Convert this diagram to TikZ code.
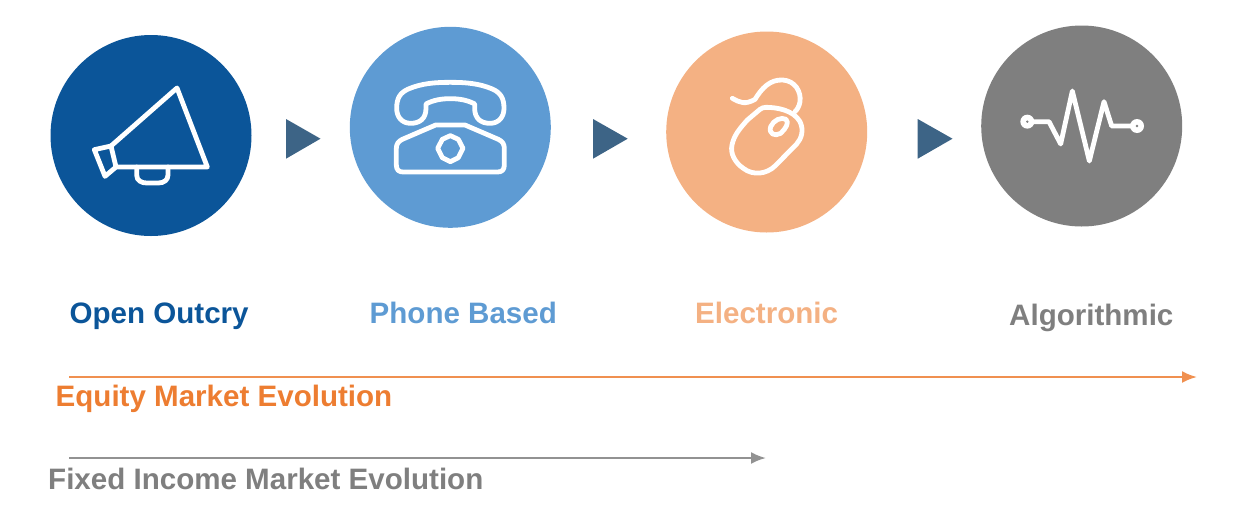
\documentclass[tikz,border=0pt]{standalone}
\usepackage{fontspec}
\setmainfont{Liberation Sans}
\usetikzlibrary{arrows.meta}
\definecolor{cblue}{HTML}{0B5599}
\definecolor{clight}{HTML}{5E9BD3}
\definecolor{cpeach}{HTML}{F4B183}
\definecolor{cgrey}{HTML}{7F7F7F}
\definecolor{ctri}{HTML}{3D6486}
\definecolor{corange}{HTML}{ED7D31}
\tikzset{
  disc/.style={circle,minimum size=201pt,inner sep=0pt,outer sep=0pt,fill=#1},
  icon/.style={draw=white,line width=4.8pt,line join=round,line cap=round},
  zoomed/.style={x=0.33333pt,y=-0.33333pt},
  tri/.style={fill=ctri,draw=none},
  lab/.style={font=\fontsize{29.55}{34}\selectfont\bfseries,inner sep=0pt,anchor=base west},
  flow/.style={line width=2.3pt,-{Latex[length=15pt,width=12pt]}}
}
\begin{document}
\begin{tikzpicture}[x=1pt,y=-1pt]
\useasboundingbox (0,0) rectangle (1238,512);
\node[disc=cblue] (c1) at (151,135.5) {};
\node[disc=clight] (c2) at (450.3,127.3) {};
\node[disc=cpeach] (c3) at (766.7,132) {};
\node[disc=cgrey] (c4) at (1081.7,126) {};
\fill[tri] (286,119) -- (320.5,138.7) -- (286,158.7) -- cycle;
\fill[tri] (593,119) -- (627.7,138.7) -- (593,158.7) -- cycle;
\fill[tri] (917.7,119) -- (952.5,138.7) -- (917.7,158.7) -- cycle;
% megaphone
\begin{scope}[shift={(50,20)},zoomed]
\draw[icon] (183,378) -- (381,204) -- (472,441) -- (198,441) -- (165,469) -- (133,389) -- cycle;
\draw[icon] (183,378) -- (198,441);
\draw[icon] (260,441) -- (260,465) .. controls (260,482) and (275,489) .. (290,489) -- (325,489) .. controls (342,489) and (354,480) .. (354,465) -- (354,441);
\end{scope}
% phone
\begin{scope}[shift={(345,20)},zoomed]
\draw[icon] (316,187) .. controls (270,187) and (230,190) .. (190,207) .. controls (165,218) and (155,235) .. (155,265) .. controls (155,290) and (170,310) .. (197,310) .. controls (225,310) and (243,295) .. (243,265) -- (243,252) .. controls (265,240) and (290,236) .. (316,236) .. controls (342,236) and (367,240) .. (389,252) -- (389,265) .. controls (389,295) and (407,310) .. (435,310) .. controls (462,310) and (477,290) .. (477,265) .. controls (477,235) and (467,218) .. (442,207) .. controls (402,190) and (362,187) .. (316,187) -- cycle;
\draw[icon] (272,315) -- (360,315) -- (460,358) .. controls (472,364) and (478,372) .. (478,385) -- (478,435) .. controls (478,450) and (470,456) .. (458,456) -- (174,456) .. controls (162,456) and (154,450) .. (154,435) -- (154,385) .. controls (154,372) and (160,364) .. (172,358) -- cycle;
\draw[icon] (316,347) -- (340,358) -- (354,385) -- (340,413) -- (316,425) -- (292,413) -- (278,385) -- (292,358) -- cycle;
\end{scope}
% mouse
\begin{scope}[shift={(660,20)},zoomed]
\draw[icon] (217,235) .. controls (240,248) and (255,255) .. (285,238) .. controls (305,205) and (330,178) .. (368,180) .. controls (405,182) and (424,215) .. (420,245) .. controls (418,258) and (412,268) .. (405,275);
\draw[icon] (318,262) .. controls (350,262) and (400,270) .. (420,305) .. controls (432,330) and (425,355) .. (410,372) -- (345,438) .. controls (320,462) and (280,468) .. (250,445) .. controls (225,428) and (210,400) .. (216,375) .. controls (222,345) and (240,325) .. (262,300) -- (300,268) .. controls (305,264) and (312,262) .. (318,262) -- cycle;
\draw[icon] (332,320) .. controls (340,300) and (365,290) .. (378,298) .. controls (388,308) and (378,325) .. (362,340) .. controls (345,350) and (325,342) .. (332,320) -- cycle;
\end{scope}
% pulse
\begin{scope}[shift={(975,20)},zoomed]
\draw[icon] (157,305) -- (222,305) -- (257,372) -- (292,213) -- (343,423) -- (387,245) -- (410,318) -- (486,318);
\fill[white] (157,305) circle[radius=7pt];
\fill[white] (486,318) circle[radius=7pt];
\fill[cgrey] (157,305) circle[radius=1.3pt];
\fill[cgrey] (486,318) circle[radius=1.3pt];
\end{scope}
% labels
\node[lab,text=cblue] (t1) at (69.5,323) {Open Outcry};
\node[lab,text=clight] (t2) at (369.5,323) {Phone Based};
\node[lab,text=cpeach] (t3) at (695,323) {Electronic};
\node[lab,text=cgrey] (t4) at (1009,325) {Algorithmic};
\node[lab,text=corange] (t5) at (55.5,406) {Equity Market Evolution};
\node[lab,text=cgrey] (t6) at (48,489) {Fixed Income Market Evolution};
\coordinate (a1) at (69,377);
\coordinate (a2) at (1197,377);
\coordinate (b1) at (69,458);
\coordinate (b2) at (766,458);
\draw[flow,draw=corange!85,fill=corange!85] (a1) -- (a2);
\draw[flow,draw=cgrey!85,fill=cgrey!85] (b1) -- (b2);
\end{tikzpicture}
\end{document}
